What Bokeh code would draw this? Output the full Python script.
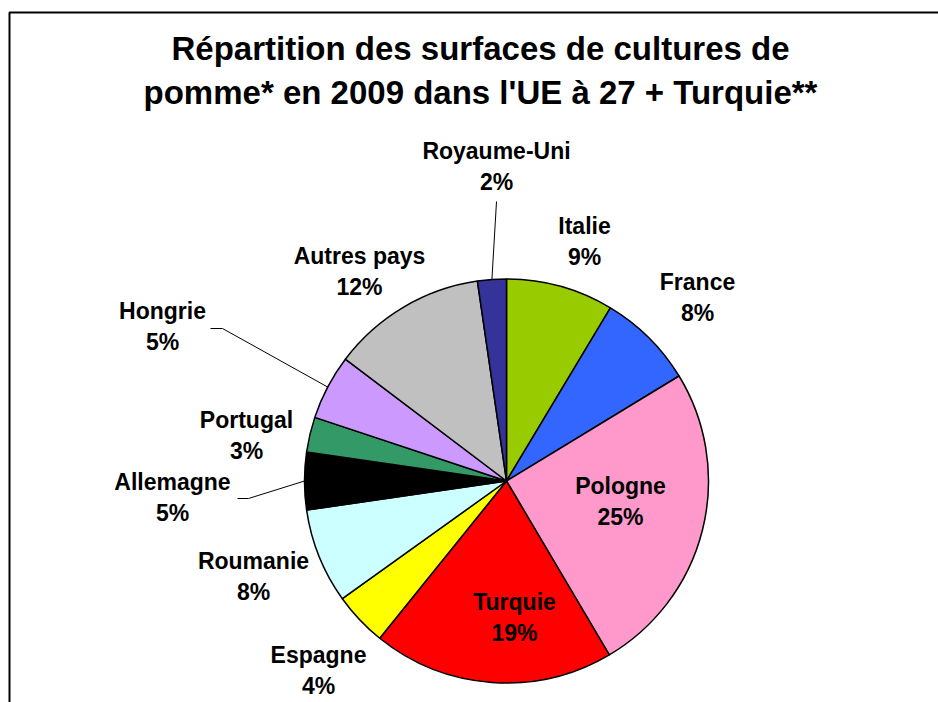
import math
from bokeh.plotting import figure
from bokeh.models import ColumnDataSource
from bokeh.core.properties import value
from bokeh.embed import file_html
from bokeh.resources import INLINE

# ---- data ----
countries = ["Italie", "France", "Pologne", "Turquie", "Espagne", "Roumanie",
             "Allemagne", "Portugal", "Hongrie", "Autres pays", "Royaume-Uni"]
shares = [8.6, 7.7, 25.2, 19.3, 4.3, 7.6, 4.6, 2.8, 5.2, 12.4, 2.3]
pct_labels = ["9%", "8%", "25%", "19%", "4%", "8%", "5%", "3%", "5%", "12%", "2%"]
colors = ["#99CC00", "#3366FF", "#FF99CC", "#FF0000", "#FFFF00", "#CCFFFF",
          "#000000", "#339966", "#CC99FF", "#C0C0C0", "#333399"]
title_lines = ["Répartition des surfaces de cultures de",
               "pomme* en 2009 dans l'UE à 27 + Turquie**"]

# ---- layout (pixel units, origin at pie centre) ----
W, H = 938, 702
CX, CY = 506, 480.5          # pie centre in picture pixels
R = 202
FONT = "Liberation Sans"
TEXT_SHIFT = 8               # baseline correction for the svg text renderer

def px(X):
    return X - CX

def py(Y):
    return CY - Y

total = sum(shares)
starts, ends, mids = [], [], []
cum = 0.0
for s in shares:
    a0 = math.pi / 2 - 2 * math.pi * cum / total
    cum += s
    a1 = math.pi / 2 - 2 * math.pi * cum / total
    starts.append(a0)
    ends.append(a1)
    mids.append((a0 + a1) / 2)

p = figure(width=W, height=H, output_backend="svg", toolbar_location=None,
           x_range=(px(0), px(0) + W), y_range=(py(0) - H, py(0)),
           min_border=0, outline_line_color=None)
p.axis.visible = False
p.grid.visible = False
p.background_fill_color = "white"
p.border_fill_color = "white"

# frame (top and left edges visible)
p.line([px(9), px(9), px(960)], [py(730), py(12), py(12)],
       line_color="black", line_width=2)

src = ColumnDataSource(dict(start=starts, end=ends, color=colors))
p.wedge(x=0, y=0, radius=R, start_angle="start", end_angle="end",
        direction="clock", fill_color="color", line_color="black",
        line_width=1.5, source=src)

# label positions: (centre x, baseline of name, baseline of pct) in picture px
label_pos = {
    "Italie": (584, 233, 264),
    "France": (697, 289, 320),
    "Pologne": (620, 493, 524),
    "Turquie": (514, 609, 640),
    "Espagne": (318, 662, 693),
    "Roumanie": (253, 568, 599),
    "Allemagne": (172, 489, 520),
    "Portugal": (246, 427, 458),
    "Hongrie": (162, 318, 349),
    "Autres pays": (359, 263, 294),
    "Royaume-Uni": (496, 158, 189),
}
xs, ys, texts = [], [], []
for c, pc in zip(countries, pct_labels):
    X, b1, b2 = label_pos[c]
    xs += [px(X), px(X)]
    ys += [py(b1 - TEXT_SHIFT), py(b2 - TEXT_SHIFT)]
    texts += [c, pc]
p.text(x=xs, y=ys, text=texts, text_font=value(FONT), text_font_style="bold",
       text_font_size="23px", text_align="center", text_baseline="alphabetic",
       text_color="black")

# leader lines (outer anchor points in picture px, inner end at slice middle)
leaders = {"Royaume-Uni": [(496, 201)],
           "Hongrie": [(210, 328), (222, 328)],
           "Allemagne": [(237, 498), (248, 498)]}
for c, pts in leaders.items():
    i = countries.index(c)
    lx = [px(X) for X, _ in pts] + [R * math.cos(mids[i])]
    ly = [py(Y) for _, Y in pts] + [R * math.sin(mids[i])]
    p.line(lx, ly, line_color="black", line_width=1)

# title
p.text(x=[px(480), px(480)], y=[py(55 - 7), py(99 - 7)], text=title_lines,
       text_font=value(FONT), text_font_style="bold", text_font_size="33px",
       text_align="center", text_baseline="alphabetic", text_color="black")

open("out.html", "w").write(file_html(p, INLINE))
